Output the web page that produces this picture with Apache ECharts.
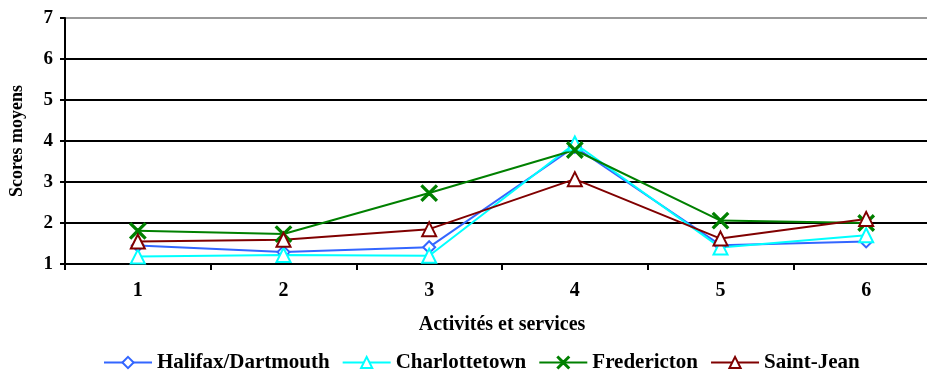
<!DOCTYPE html>
<html>
<head>
<meta charset="utf-8">
<script src="https://cdn.jsdelivr.net/npm/echarts@6/dist/echarts.min.js"></script>
<style>
  html, body { margin: 0; padding: 0; background: #fff; }
  #chart { width: 927px; height: 370px; }
</style>
</head>
<body>
<div id="chart"></div>
<script>
// Activités et services (1 à 6)
var categories = ['1', '2', '3', '4', '5', '6'];

// Scores moyens par ville
var halifax = [1.45, 1.29, 1.41, 3.86, 1.46, 1.55];
var charlottetown = [1.18, 1.22, 1.20, 3.94, 1.40, 1.70];
var fredericton = [1.81, 1.73, 2.73, 3.78, 2.06, 2.00];
var saintJean = [1.55, 1.59, 1.85, 3.07, 1.62, 2.10];

var yTicks = [1, 2, 3, 4, 5, 6, 7];

var FONT = '"Liberation Serif", "Times New Roman", serif';
// thin "x" marker
var crossPath = 'path://M0,0.6L0.6,0L5,4.4L9.4,0L10,0.6L5.6,5L10,9.4L9.4,10L5,5.6L0.6,10L0,9.4L4.4,5Z';

function lineSeries(name, data, color, symbol, size) {
  return {
    name: name,
    type: 'line',
    data: data,
    symbol: symbol,
    symbolSize: size,
    showAllSymbol: true,
    lineStyle: { color: color, width: 2 },
    itemStyle: { color: color, borderColor: color, borderWidth: 2 },
    emphasis: { disabled: true },
    animation: false
  };
}

var chart = echarts.init(document.getElementById('chart'), null, { renderer: 'canvas' });
chart.setOption({
  backgroundColor: '#fff',
  animation: false,
  // the plot runs slightly past the right edge of the canvas
  grid: { left: 65, top: 18, right: -12, bottom: 106, outerBoundsMode: 'none', containLabel: false },
  legend: {
    top: 347,
    left: 98,
    itemWidth: 48,
    itemHeight: 14,
    itemGap: 12,
    textStyle: { fontFamily: FONT, fontWeight: 'bold', fontSize: 21, color: '#000' },
    data: ['Halifax/Dartmouth', 'Charlottetown', 'Fredericton', 'Saint-Jean']
  },
  xAxis: {
    type: 'category',
    data: categories,
    boundaryGap: true,
    name: 'Activités et services',
    nameLocation: 'middle',
    nameGap: 51,
    nameTextStyle: { fontFamily: FONT, fontWeight: 'bold', fontSize: 20, color: '#000' },
    axisLine: { lineStyle: { color: '#000', width: 2 } },
    axisTick: { show: true, length: 6, lineStyle: { color: '#000', width: 2 } },
    axisLabel: { margin: 17, fontFamily: FONT, fontWeight: 'bold', fontSize: 20, color: '#000' }
  },
  yAxis: {
    type: 'value',
    min: yTicks[0],
    max: yTicks[yTicks.length - 1],
    interval: 1,
    name: 'Scores moyens',
    nameLocation: 'middle',
    nameGap: 39,
    nameRotate: 90,
    nameTextStyle: { fontFamily: FONT, fontWeight: 'bold', fontSize: 18, color: '#000' },
    axisLine: { show: true, lineStyle: { color: '#000', width: 2 } },
    axisTick: { show: true, length: 5, lineStyle: { color: '#000', width: 2 } },
    axisLabel: { margin: 12, fontFamily: FONT, fontWeight: 'bold', fontSize: 19, color: '#000' },
    splitLine: {
      show: true,
      lineStyle: { color: ['#000', '#000', '#000', '#000', '#000', '#000', '#999'], width: 2 }
    }
  },
  series: [
    lineSeries('Halifax/Dartmouth', halifax, '#3366FF', 'emptyDiamond', 12),
    lineSeries('Charlottetown', charlottetown, '#00FFFF', 'emptyTriangle', 14),
    lineSeries('Fredericton', fredericton, '#008000', crossPath, 15),
    lineSeries('Saint-Jean', saintJean, '#800000', 'emptyTriangle', 14)
  ]
});
</script>
</body>
</html>
